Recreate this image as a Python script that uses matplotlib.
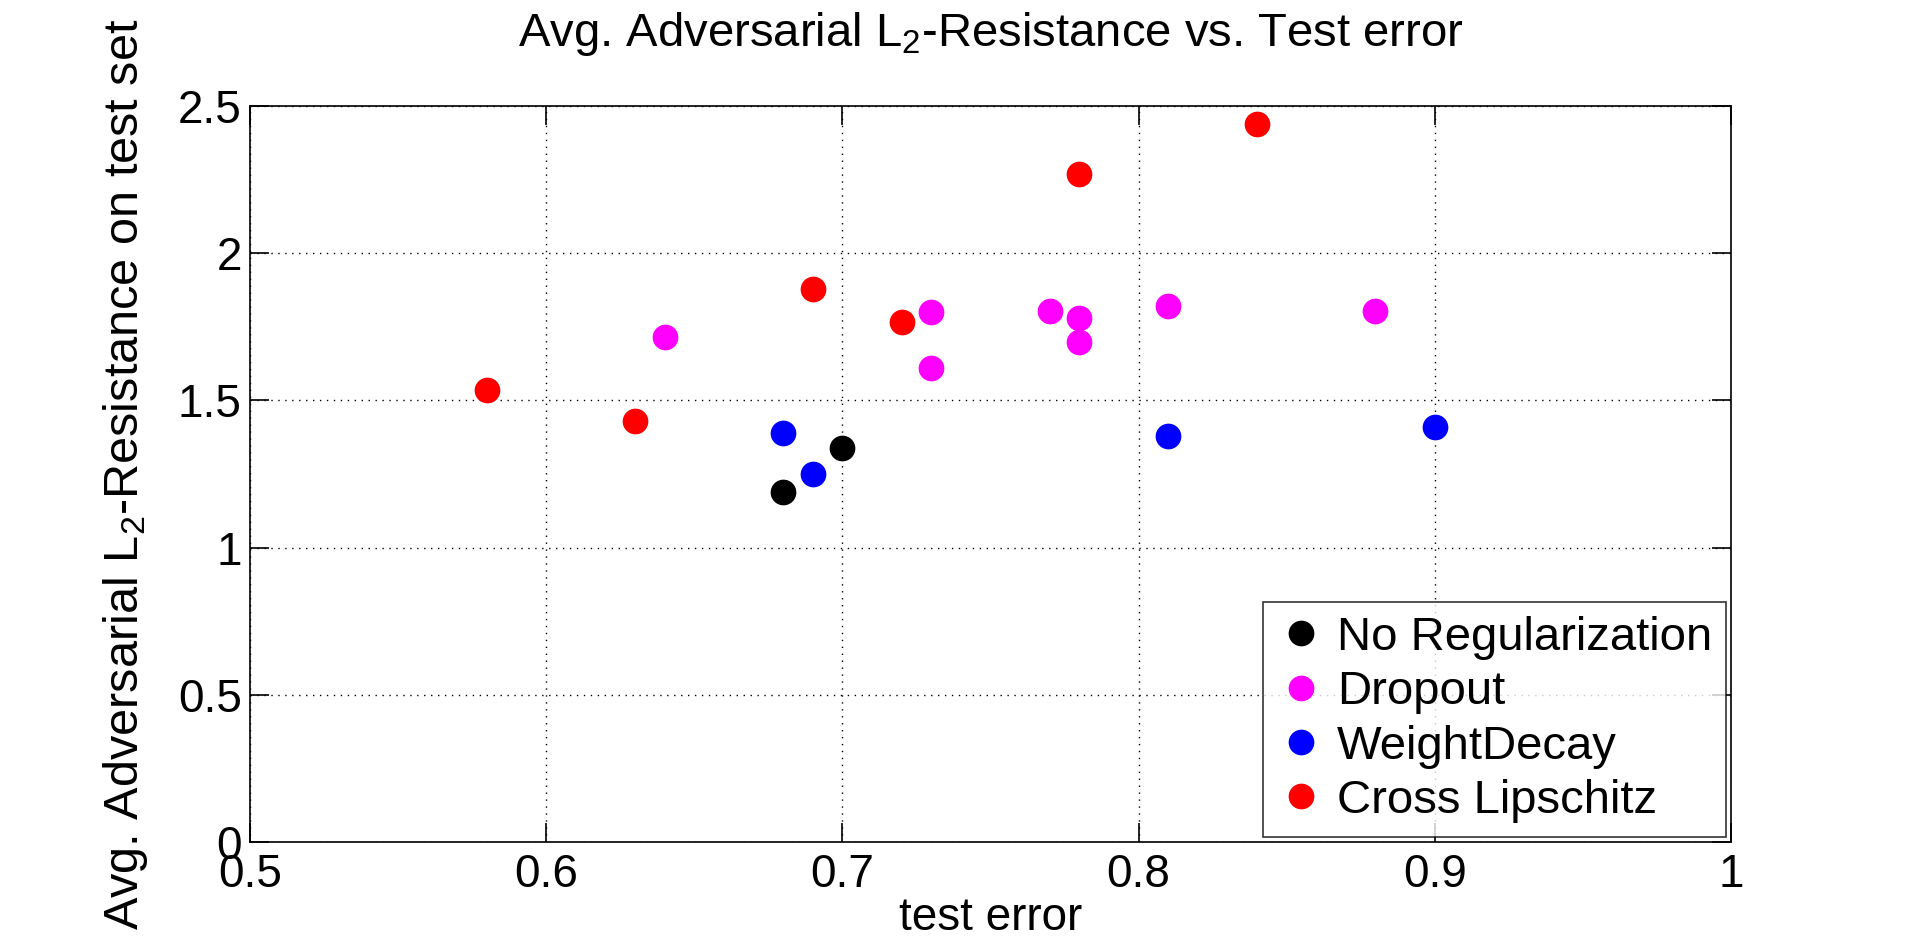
import matplotlib
matplotlib.use("Agg")
import matplotlib.pyplot as plt

plt.rcParams['font.family'] = ['Liberation Sans', 'DejaVu Sans']
plt.rcParams['mathtext.fontset'] = 'custom'
plt.rcParams['mathtext.rm'] = 'Liberation Sans'
plt.rcParams['mathtext.it'] = 'Liberation Sans'

# Data
noreg_x = [0.68, 0.70]
noreg_y = [1.19, 1.34]
dropout_x = [0.64, 0.73, 0.73, 0.77, 0.78, 0.78, 0.81, 0.88]
dropout_y = [1.715, 1.80, 1.61, 1.805, 1.78, 1.70, 1.82, 1.805]
wd_x = [0.68, 0.69, 0.81, 0.90]
wd_y = [1.39, 1.25, 1.38, 1.41]
cl_x = [0.58, 0.63, 0.69, 0.72, 0.78, 0.84]
cl_y = [1.535, 1.43, 1.88, 1.765, 2.27, 2.44]

series = [
    ("No Regularization", noreg_x, noreg_y, "#000000"),
    ("Dropout", dropout_x, dropout_y, "#ff00ff"),
    ("WeightDecay", wd_x, wd_y, "#0000ff"),
    ("Cross Lipschitz", cl_x, cl_y, "#ff0000"),
]

xticks = [0.5, 0.6, 0.7, 0.8, 0.9, 1.0]
xticklabels = ["0.5", "0.6", "0.7", "0.8", "0.9", "1"]
yticks = [0, 0.5, 1, 1.5, 2, 2.5]
yticklabels = ["0", "0.5", "1", "1.5", "2", "2.5"]

fig = plt.figure(figsize=(19.14, 9.48), dpi=100)
ax = fig.add_axes([0.1307, 0.112, 0.7736, 0.776])

for name, xs, ys, c in series:
    ax.plot(xs, ys, linestyle='none', marker='o', markersize=17.5,
            color=c, markeredgecolor=c, label=name, zorder=3)

ax.set_xlim(0.5, 1.0)
ax.set_ylim(0, 2.5)
ax.set_xticks(xticks)
ax.set_xticklabels(xticklabels)
ax.set_yticks(yticks)
ax.set_yticklabels(yticklabels)

ax.grid(True, color='black', linestyle=(0, (1, 4)), linewidth=1.0)
ax.tick_params(direction='in', length=14, width=1.2, labelsize=33,
               top=True, right=True, pad=6)
ax.tick_params(axis='x', pad=8)
for s in ax.spines.values():
    s.set_linewidth(1.2)

ax.set_xlabel("test error", fontsize=33, labelpad=-1)
ax.set_ylabel("Avg. Adversarial L$_2$-Resistance on test set", fontsize=35, labelpad=20)
ax.set_title("Avg. Adversarial L$_2$-Resistance vs. Test error", fontsize=34, pad=43)

leg = ax.legend(loc='lower right', fontsize=34, frameon=True, fancybox=False,
                edgecolor='black', borderaxespad=0.1, handletextpad=0.25,
                labelspacing=0.22, handlelength=1.0, borderpad=0.3)
leg.get_frame().set_linewidth(1.2)

fig.savefig("out.png", dpi=100)
